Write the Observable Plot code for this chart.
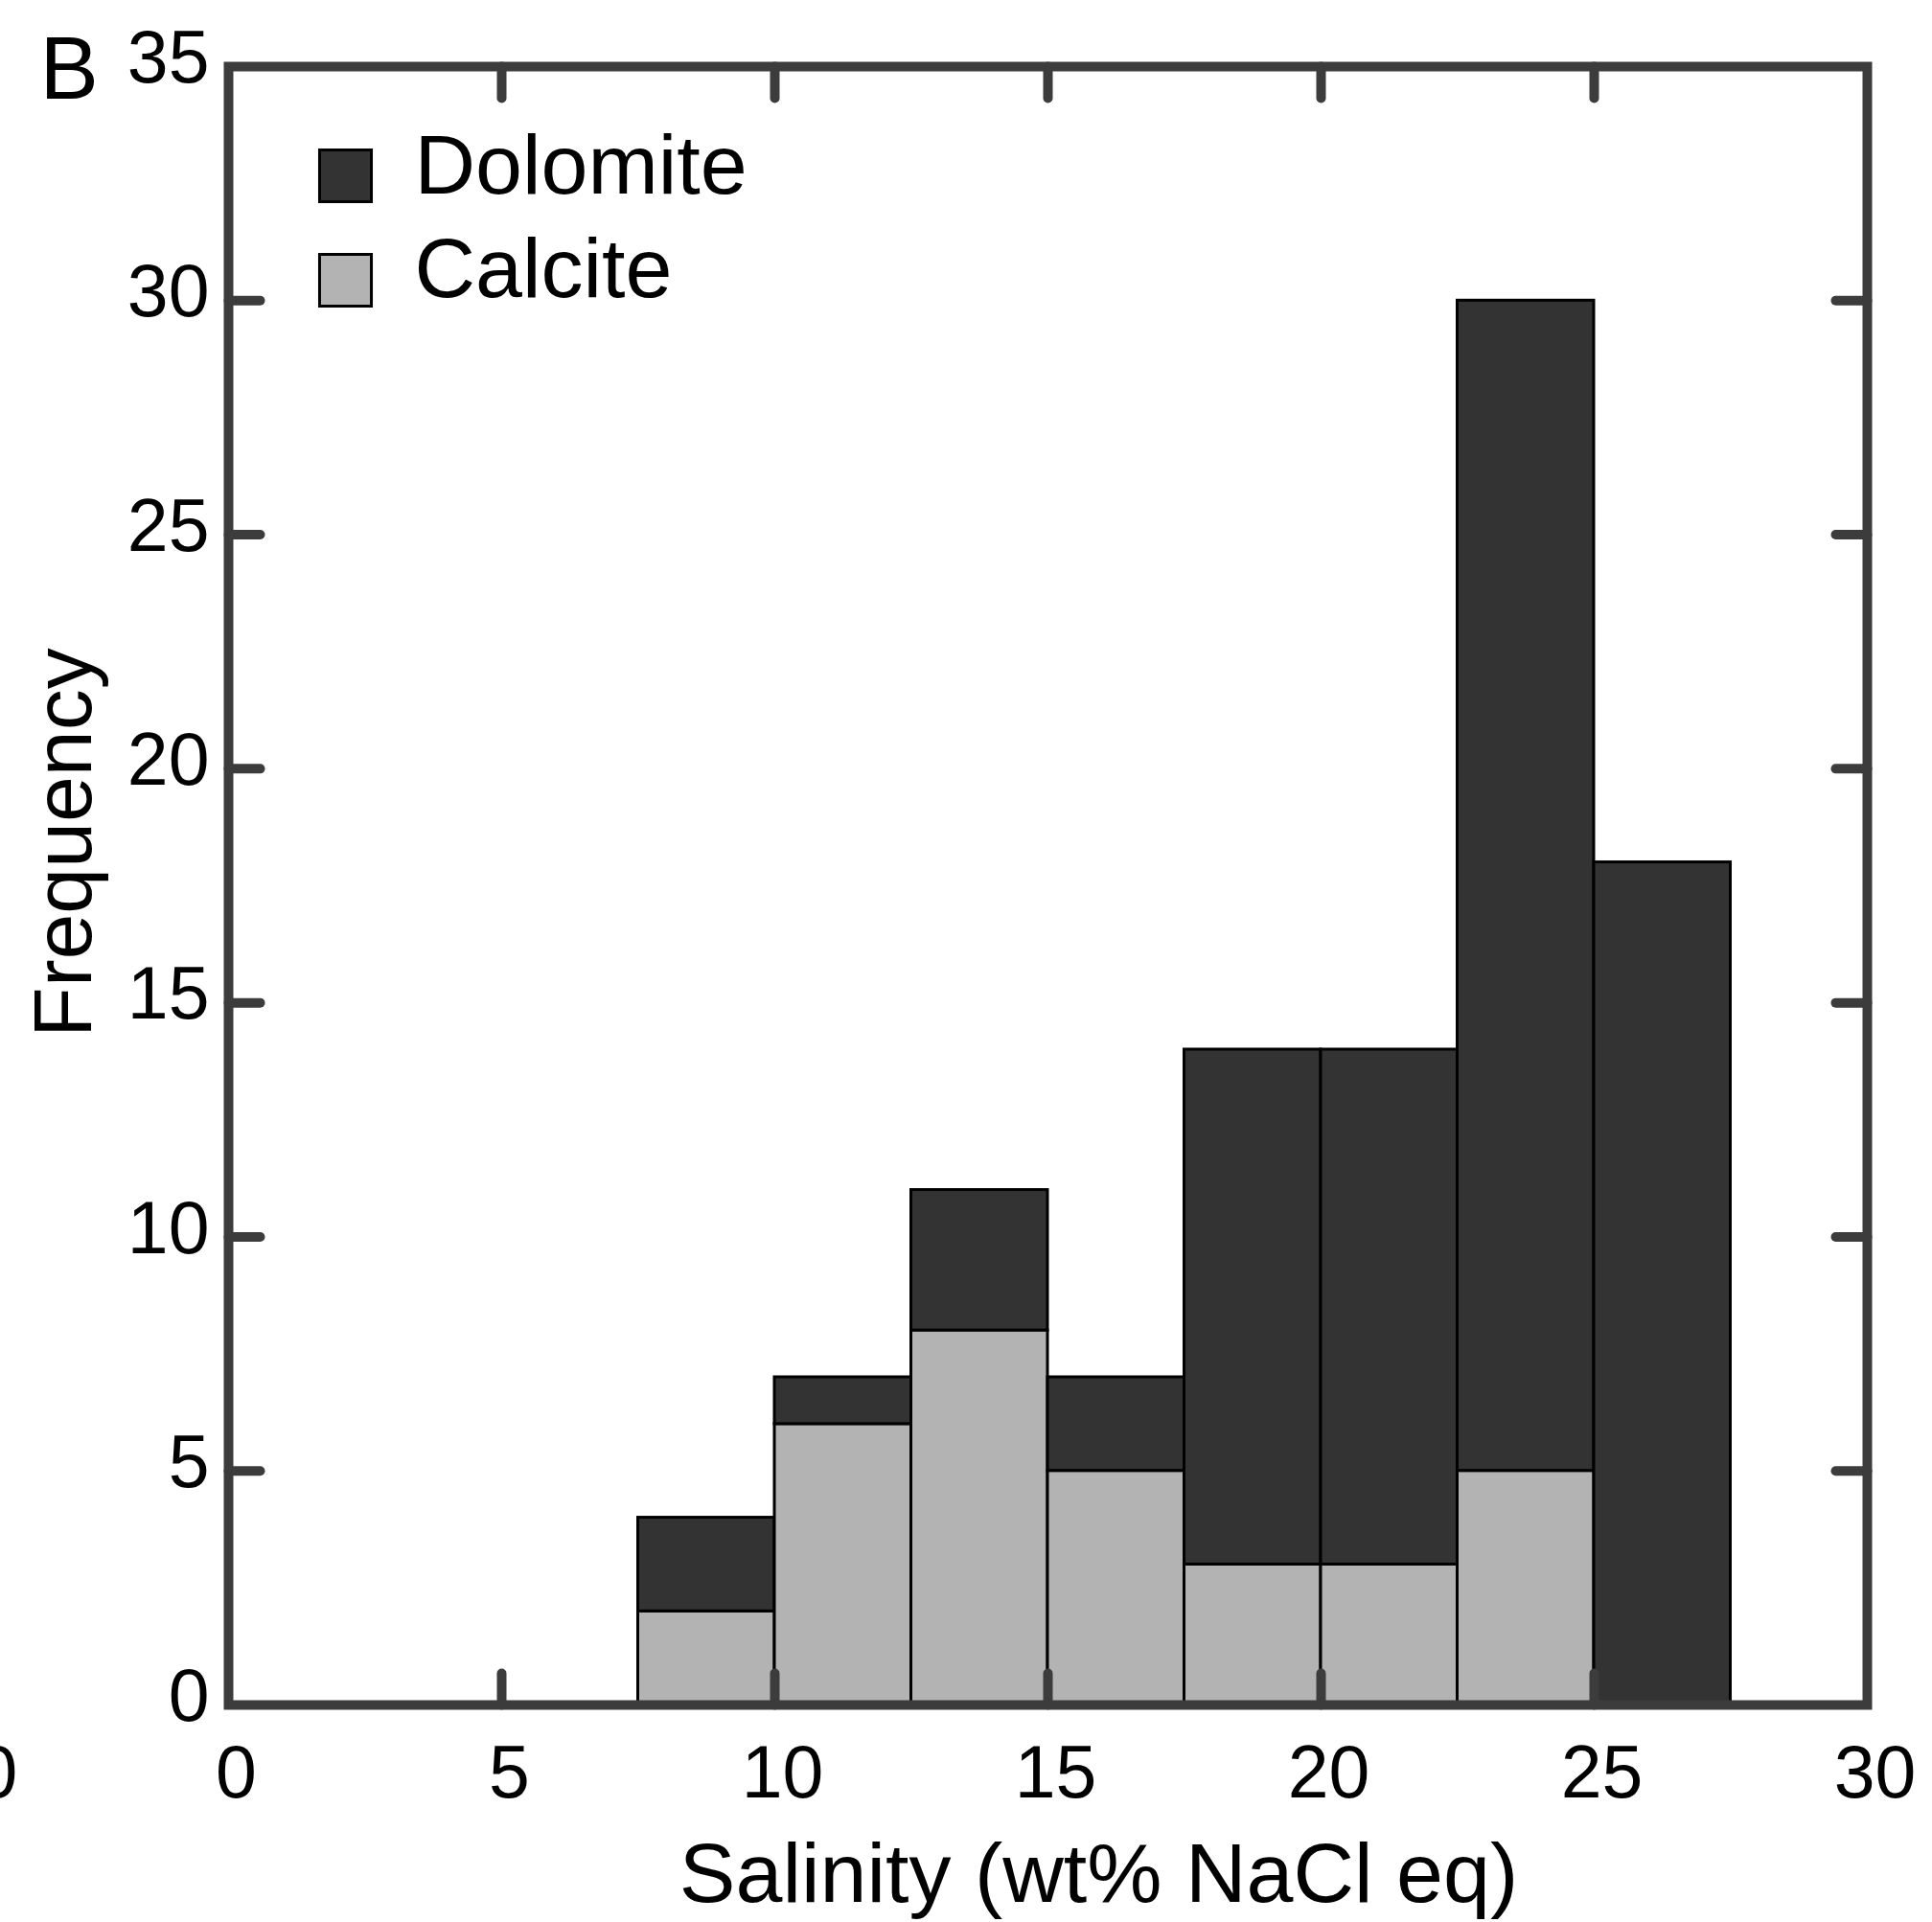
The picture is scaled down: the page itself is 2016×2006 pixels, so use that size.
<!DOCTYPE html>
<html><head><meta charset="utf-8">
<script src="https://cdn.jsdelivr.net/npm/d3@7"></script>
<script src="https://cdn.jsdelivr.net/npm/@observablehq/plot@0.6"></script>
<style>
html,body{margin:0;padding:0;background:#fff;}
#chart{width:2016px;height:2006px;overflow:hidden;}
</style></head><body><div id="chart"></div>
<script>
// ---- data ----
const binStarts = [7.5, 10, 12.5, 15, 17.5, 20, 22.5, 25];
const binWidth = 2.5;
const calcite = [2, 6, 8, 5, 3, 3, 5, 0];
const dolomite = [2, 1, 3, 2, 11, 11, 25, 18];
const xTicks = [0, 5, 10, 15, 20, 25, 30];
const yTicks = [0, 5, 10, 15, 20, 25, 30, 35];
const seriesNames = ["Dolomite", "Calcite"];
const seriesColors = ["#333333", "#b3b3b3"];
const xTitle = "Salinity (wt% NaCl eq)";
const yTitle = "Frequency";
const panelLabel = "B";
const strayLabel = "30";

// ---- table ----
const rows = [];
binStarts.forEach((x0, i) => {
  if (calcite[i] > 0) rows.push({x1: x0, x2: x0 + binWidth, y1: 0, y2: calcite[i], s: "Calcite"});
  if (dolomite[i] > 0) rows.push({x1: x0, x2: x0 + binWidth, y1: calcite[i], y2: calcite[i] + dolomite[i], s: "Dolomite"});
});

const innerX = xTicks.slice(1, -1);
const innerY = yTicks.slice(1, -1);
const tickShape = {draw(ctx, l) { ctx.moveTo(0, 0); ctx.lineTo(0, -l); }};
const axisColor = "#3c3c3c";
const tickOpts = {length: 33, anchor: "start", shape: tickShape, stroke: axisColor, strokeWidth: 10};
const font = "Liberation Sans, Arial, Helvetica, sans-serif";

const chart = Plot.plot({
  width: 2016, height: 2006,
  marginLeft: 238, marginRight: 68, marginTop: 69, marginBottom: 227,
  x: {domain: [0, 30]},
  y: {domain: [0, 35]},
  color: {domain: seriesNames, range: seriesColors},
  style: {fontFamily: font, color: "#000", background: "#fff", overflow: "hidden"},
  marks: [
    Plot.rect(rows, {x1: "x1", x2: "x2", y1: "y1", y2: "y2", fill: "s", stroke: "#000", strokeWidth: 3}),
    Plot.vector(innerX, {x: d => d, frameAnchor: "bottom", rotate: 0, ...tickOpts}),
    Plot.vector(innerX, {x: d => d, frameAnchor: "top", rotate: 180, ...tickOpts}),
    Plot.vector(innerY, {y: d => d, frameAnchor: "left", rotate: 90, ...tickOpts}),
    Plot.vector(innerY, {y: d => d, frameAnchor: "right", rotate: -90, ...tickOpts}),
    Plot.axisX({ticks: xTicks, tickSize: 0, tickPadding: 42, dx: 8, fontSize: 77, label: null, fill: "#000"}),
    Plot.axisY({ticks: yTicks, tickSize: 0, tickPadding: 20, dy: -8, fontSize: 77, label: null, fill: "#000"}),
    Plot.frame({stroke: axisColor, strokeWidth: 10}),
    // axis titles
    Plot.text([xTitle], {frameAnchor: "bottom", dx: 53, dy: 143, textAnchor: "middle", lineAnchor: "top", fontSize: 88, fill: "#000"}),
    Plot.text([yTitle], {frameAnchor: "left", dx: -205, dy: -45, rotate: -90, textAnchor: "middle", lineAnchor: "top", fontSize: 86, fill: "#000"}),
    Plot.text([panelLabel], {frameAnchor: "top-left", dx: -197, dy: -32, textAnchor: "start", lineAnchor: "top", fontSize: 92, fill: "#000"}),
    Plot.text([strayLabel], {frameAnchor: "bottom-left", dx: -263, dy: 42, textAnchor: "middle", lineAnchor: "top", fontSize: 77, fill: "#000"}),
    // legend
    Plot.dot([seriesNames[0]], {frameAnchor: "top-left", dx: 122, dy: 114, symbol: "square", r: 30.5, fill: seriesColors[0], stroke: "#000", strokeWidth: 3}),
    Plot.dot([seriesNames[1]], {frameAnchor: "top-left", dx: 122, dy: 223, symbol: "square", r: 30.5, fill: seriesColors[1], stroke: "#000", strokeWidth: 3}),
    Plot.text([seriesNames[0]], {frameAnchor: "top-left", dx: 194, dy: 70, textAnchor: "start", lineAnchor: "top", fontSize: 88, fill: "#000"}),
    Plot.text([seriesNames[1]], {frameAnchor: "top-left", dx: 194, dy: 178, textAnchor: "start", lineAnchor: "top", fontSize: 88, fill: "#000"})
  ]
});
document.getElementById("chart").appendChild(chart);
</script>
</body></html>
